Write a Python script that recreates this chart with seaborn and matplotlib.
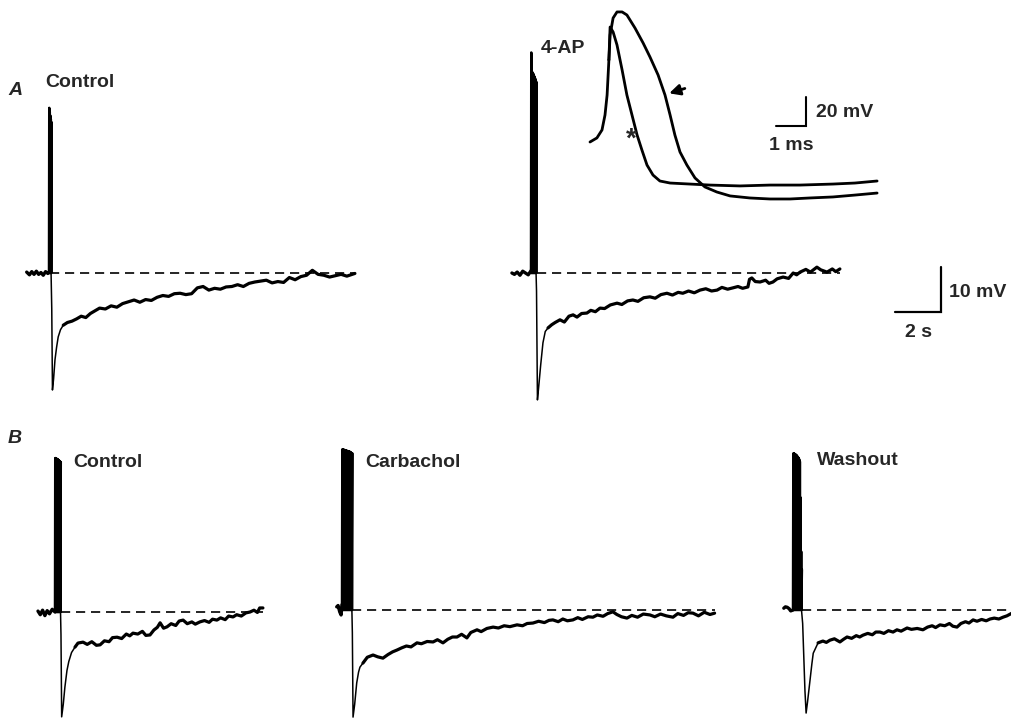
import numpy as np
import matplotlib
matplotlib.use("Agg")
import matplotlib.pyplot as plt
import seaborn as sns

sns.set_style("white")
plt.rcParams['font.family'] = ['Liberation Sans', 'DejaVu Sans']

W, H = 1012, 719
PX_S = 23.0    # px per second (2 s bar = 46 px)
PX_MV = 4.5    # px per mV (10 mV bar = 45 px)

# ---- slow traces: (time from train onset, s ; mV from baseline) ----
a_ctrl_pre = [(-0.97, 0.2), (-0.85, -0.4), (-0.75, 0.3), (-0.65, -0.3), (-0.55, 0.4),
              (-0.45, -0.3), (-0.35, 0.1), (-0.25, -0.5), (-0.15, 0.3), (-0.05, -0.1), (0.0, 0.2)]
a_ctrl_peaks = [36.7, 35.8, 35.0, 34.2, 33.5]
a_ctrl_fast = [(0.12, -8.0), (0.15, -26.0), (0.2, -23.5), (0.26, -19.3), (0.33, -16.5),
               (0.4, -14.2), (0.5, -12.6), (0.62, -11.6)]
a_ctrl_slow = [(0.62, -11.6), (0.8, -11.0), (1.0, -10.7), (1.2, -10.2), (1.4, -9.6), (1.6, -9.9),
               (1.8, -9.0), (2.0, -8.4), (2.2, -7.8), (2.45, -8.0), (2.7, -7.3), (2.95, -7.6),
               (3.2, -6.8), (3.45, -6.4), (3.7, -6.0), (3.95, -6.5), (4.2, -5.9), (4.45, -6.1),
               (4.7, -5.4), (4.95, -5.0), (5.2, -5.2), (5.45, -4.6), (5.7, -4.5), (5.95, -4.8),
               (6.2, -4.6), (6.45, -3.3), (6.7, -3.0), (6.95, -3.8), (7.2, -3.4), (7.45, -3.6),
               (7.7, -3.1), (7.95, -3.0), (8.2, -2.6), (8.45, -3.0), (8.7, -2.3), (8.95, -2.0),
               (9.2, -1.8), (9.45, -1.6), (9.7, -2.2), (9.95, -1.9), (10.2, -2.1), (10.45, -1.0),
               (10.7, -1.5), (10.95, -0.8), (11.2, -0.5), (11.45, 0.6), (11.7, -0.3), (11.95, -0.5),
               (12.2, -0.9), (12.45, -0.6), (12.7, -0.3), (12.95, -0.7), (13.3, -0.1)]
a_ctrl_dash = (0.05, 13.3)

a_4ap_pre = [(-0.83, 0.0), (-0.72, -0.3), (-0.6, 0.2), (-0.48, -0.5), (-0.36, 0.4),
             (-0.24, 0.0), (-0.12, -0.4), (0.0, 0.5)]
a_4ap_peaks = [49.0, 44.7, 44.6, 44.4, 44.1, 43.8, 43.5, 43.2, 42.8, 42.4]
a_4ap_fast = [(0.24, -4.0), (0.28, -28.2), (0.34, -25.0), (0.42, -20.5), (0.52, -15.5),
              (0.62, -13.0), (0.74, -12.2)]
a_4ap_slow = [(0.74, -12.2), (0.9, -11.5), (1.05, -11.0), (1.26, -10.4), (1.45, -10.9), (1.65, -9.6),
              (1.83, -9.3), (2.0, -9.8), (2.2, -9.0), (2.43, -8.9), (2.6, -8.3), (2.8, -8.6),
              (3.0, -7.8), (3.2, -7.9), (3.45, -7.1), (3.74, -6.7), (3.95, -7.0), (4.2, -6.2),
              (4.43, -6.0), (4.65, -6.3), (4.9, -5.5), (5.17, -5.3), (5.4, -5.6), (5.65, -4.8),
              (5.91, -4.5), (6.15, -4.9), (6.4, -4.3), (6.6, -4.5), (6.85, -4.0), (7.1, -4.4),
              (7.35, -3.8), (7.6, -3.5), (7.85, -4.0), (8.09, -3.8), (8.3, -3.2), (8.55, -3.6),
              (8.78, -3.3), (9.0, -3.0), (9.2, -3.4), (9.43, -3.1), (9.5, -1.4), (9.6, -1.1),
              (9.75, -1.9), (9.96, -2.0), (10.2, -1.6), (10.35, -2.3), (10.52, -2.0), (10.7, -1.3),
              (10.96, -0.9), (11.2, -1.2), (11.4, 0.0), (11.55, -0.4), (11.7, 0.2), (11.95, 0.8),
              (12.15, 0.2), (12.43, 1.3), (12.6, 0.7), (12.87, 0.2), (13.1, 0.9), (13.25, 0.3),
              (13.43, 0.9)]
a_4ap_dash = (0.26, 13.43)

b_ctrl_pre = [(-0.74, 0.2), (-0.64, -0.6), (-0.54, 0.4), (-0.44, -0.8), (-0.34, 0.3),
              (-0.24, -0.4), (-0.12, 0.6), (0.0, 0.0)]
b_ctrl_peaks = [34.2, 34.2, 34.1, 34.0, 34.0, 33.9, 33.8, 33.7, 33.6, 33.5, 33.4, 33.3]
b_ctrl_fast = [(0.26, -5.0), (0.29, -23.3), (0.36, -20.5), (0.43, -16.7), (0.52, -13.0),
               (0.6, -11.0), (0.72, -9.0), (0.87, -7.8)]
b_ctrl_slow = [(0.87, -7.8), (1.0, -6.9), (1.22, -6.7), (1.4, -7.2), (1.6, -6.6), (1.8, -7.4),
               (1.96, -7.3), (2.15, -6.4), (2.35, -6.6), (2.5, -5.7), (2.7, -5.6), (2.9, -5.9),
               (3.1, -4.9), (3.25, -5.3), (3.39, -4.7), (3.6, -4.9), (3.8, -4.3), (3.95, -5.2),
               (4.13, -5.1), (4.3, -4.0), (4.45, -3.4), (4.57, -2.4), (4.72, -3.6), (4.87, -3.3),
               (5.05, -2.6), (5.25, -3.0), (5.4, -2.0), (5.57, -1.8), (5.75, -2.6), (5.95, -2.2),
               (6.1, -2.7), (6.3, -2.2), (6.5, -1.9), (6.7, -2.3), (6.85, -1.6), (7.04, -1.8),
               (7.2, -1.3), (7.4, -1.7), (7.55, -0.9), (7.74, -1.1), (7.9, -0.6), (8.1, -0.9),
               (8.3, -0.2), (8.48, 0.0), (8.65, 0.4), (8.8, -0.1), (8.9, 0.9), (9.04, 0.9)]
b_ctrl_dash = (0.26, 9.04)

b_carb_pre = [(-0.23, 0.7), (-0.17, 1.0), (-0.1, -0.4), (-0.04, -1.1), (0.0, 1.2)]
b_carb_peaks = [35.7, 35.7, 35.6, 35.6, 35.5, 35.5, 35.4, 35.4, 35.3, 35.3, 35.2, 35.2,
                35.1, 35.0, 34.9, 34.8]
b_carb_fast = [(0.45, -5.0), (0.48, -23.8), (0.55, -21.0), (0.64, -16.2), (0.72, -13.8),
               (0.78, -12.7), (0.91, -11.8)]
b_carb_slow = [(0.91, -11.8), (1.1, -10.5), (1.35, -10.0), (1.55, -10.4), (1.78, -10.7), (2.0, -9.9),
               (2.2, -9.3), (2.39, -8.9), (2.6, -8.4), (2.8, -8.0), (3.0, -8.2), (3.26, -7.3),
               (3.45, -7.5), (3.7, -7.0), (3.96, -7.1), (4.15, -6.6), (4.39, -7.3), (4.6, -6.5),
               (4.8, -6.0), (5.0, -6.0), (5.2, -5.4), (5.43, -6.2), (5.6, -5.0), (5.87, -4.4),
               (6.05, -4.8), (6.3, -4.1), (6.57, -3.8), (6.8, -4.0), (7.05, -3.5), (7.3, -3.7),
               (7.61, -3.3), (7.85, -3.5), (8.05, -3.0), (8.3, -2.9), (8.55, -2.5), (8.8, -2.8),
               (9.0, -2.3), (9.17, -2.2), (9.4, -2.6), (9.6, -2.0), (9.8, -2.4), (10.04, -2.2),
               (10.25, -1.7), (10.45, -2.1), (10.7, -1.5), (10.91, -1.6), (11.1, -1.1), (11.35, -1.4),
               (11.55, -0.8), (11.78, -0.4), (11.95, -1.0), (12.15, -1.5), (12.39, -1.8), (12.6, -1.2),
               (12.85, -1.6), (13.1, -0.9), (13.39, -1.1), (13.6, -1.5), (13.85, -0.9), (14.1, -1.3),
               (14.39, -1.6), (14.6, -0.8), (14.85, -1.2), (15.05, -0.6), (15.26, -0.7), (15.5, -1.3),
               (15.75, -0.5), (16.0, -1.0), (16.2, -0.7)]
b_carb_dash = (0.43, 16.2)

b_wash_pre = [(-0.4, 0.4), (-0.33, 0.7), (-0.25, 0.6), (-0.17, 0.3), (-0.1, -0.2), (0.0, 0.0)]
b_wash_peaks = [34.8, 34.8, 34.7, 34.6, 34.5, 34.4, 34.2, 34.0, 33.8, 33.5, 33.0, 25.0, 13.0, 9.0]
b_wash_fast = [(0.42, -3.0), (0.52, -18.0), (0.57, -22.9), (0.63, -20.5), (0.74, -15.6),
               (0.82, -12.0), (0.88, -9.6), (1.09, -7.3)]
b_wash_slow = [(1.09, -7.3), (1.3, -6.9), (1.45, -7.2), (1.61, -6.7), (1.8, -6.4), (2.04, -7.1),
               (2.2, -6.5), (2.35, -6.0), (2.55, -6.3), (2.75, -5.7), (2.9, -6.0), (3.04, -5.6),
               (3.25, -5.2), (3.45, -5.5), (3.6, -4.9), (3.78, -4.9), (3.95, -5.2), (4.15, -4.6),
               (4.35, -4.9), (4.52, -4.4), (4.7, -4.7), (4.96, -4.0), (5.15, -4.3), (5.4, -4.1),
               (5.65, -4.4), (5.85, -3.8), (6.05, -3.5), (6.2, -3.9), (6.39, -3.3), (6.6, -3.5),
               (6.8, -3.0), (6.95, -3.6), (7.13, -3.8), (7.3, -3.0), (7.5, -2.6), (7.65, -2.9),
               (7.83, -2.2), (8.0, -2.5), (8.2, -2.1), (8.4, -2.4), (8.57, -2.0), (8.75, -1.8),
               (8.95, -2.0), (9.13, -1.6), (9.3, -1.3), (9.52, -0.7)]
b_wash_dash = (0.39, 9.52)

# ---- inset action potentials: (ms, mV from start of sweep) ----
ap_rise = [(0.0, 0.0), (0.23, 2.8), (0.4, 8.3), (0.5, 18.6), (0.57, 32.4), (0.63, 56.6)]
ap_4ap = [(0.63, 56.6), (0.67, 73.8), (0.77, 85.5), (0.9, 89.7), (1.07, 89.7), (1.23, 87.6),
          (1.5, 78.6), (1.77, 68.3), (2.0, 58.6), (2.27, 46.2), (2.5, 32.4), (2.67, 18.6),
          (2.83, 4.8), (3.0, -6.9), (3.23, -15.9), (3.5, -24.8), (3.83, -31.0), (4.23, -34.5),
          (4.67, -37.2), (5.33, -38.6), (6.0, -39.3), (6.67, -39.3), (7.33, -38.6), (8.1, -37.9),
          (8.83, -36.6), (9.57, -35.2)]
ap_ctrl = [(0.63, 56.6), (0.67, 79.3), (0.77, 75.9), (0.9, 66.9), (1.07, 49.7), (1.23, 32.4),
           (1.4, 18.6), (1.57, 4.8), (1.73, -5.5), (1.9, -15.9), (2.1, -22.8), (2.33, -26.9),
           (2.67, -28.3), (3.33, -29.0), (4.0, -29.7), (5.0, -30.3), (6.0, -29.7), (7.0, -29.7),
           (8.1, -29.0), (8.83, -28.3), (9.57, -26.9)]

# trace origins in pixels (train onset x, baseline y)
traces = [
    (a_ctrl_pre, a_ctrl_peaks, 0.09, a_ctrl_fast, a_ctrl_slow, a_ctrl_dash, (49, 273)),
    (a_4ap_pre, a_4ap_peaks, 0.22, a_4ap_fast, a_4ap_slow, a_4ap_dash, (531, 273)),
    (b_ctrl_pre, b_ctrl_peaks, 0.24, b_ctrl_fast, b_ctrl_slow, b_ctrl_dash, (55, 612)),
    (b_carb_pre, b_carb_peaks, 0.43, b_carb_fast, b_carb_slow, b_carb_dash, (342, 610)),
    (b_wash_pre, b_wash_peaks, 0.37, b_wash_fast, b_wash_slow, b_wash_dash, (793, 610)),
]

fig = plt.figure(figsize=(W / 100, H / 100), dpi=100)
ax = fig.add_axes([0, 0, 1, 1])
ax.set_xlim(0, W / PX_S)
ax.set_ylim(0, H / PX_MV)
ax.axis('off')


def line(a, pts, x0=0.0, y0=0.0, **kw):
    t = np.array([p[0] for p in pts]) + x0
    v = np.array([p[1] for p in pts]) + y0
    sns.lineplot(x=t, y=v, ax=a, color='black', sort=False, estimator=None, **kw)


for pre, peaks, dur, fast, slow, dash, (px, py) in traces:
    x0, y0 = px / PX_S, (H - py) / PX_MV
    ts = np.linspace(0, dur, len(peaks))
    step = ts[1] - ts[0]
    train = []
    for t, p in zip(ts, peaks):
        train += [(t, 0.0), (t + step * 0.5, p)]
    train.append((dur, 0.0))
    line(ax, pre, x0, y0, linewidth=2.4)
    line(ax, train, x0, y0, linewidth=1.8)
    line(ax, [train[-1]] + fast, x0, y0, linewidth=1.1)
    line(ax, slow, x0, y0, linewidth=2.3)
    line(ax, [(dash[0], 0.0), (dash[1], 0.0)], x0, y0, linewidth=1.2,
         linestyle=(0, (5.5, 3.5)))

# 10 mV / 2 s scale bar
sx, sy = 941 / PX_S, (H - 312) / PX_MV
ax.plot([sx - 2, sx, sx], [sy, sy, sy + 10], color='black', lw=1.6,
        solid_joinstyle='miter')

# inset with action potentials
IX_MS, IY_MV, IOX, IOY = 30.0, 1.45, 590, 142
axi = fig.add_axes([580 / W, 1 - 210 / H, 310 / W, 210 / H])
axi.set_xlim((580 - IOX) / IX_MS, (890 - IOX) / IX_MS)
axi.set_ylim((IOY - 210) / IY_MV, IOY / IY_MV)
axi.axis('off')
axi.patch.set_alpha(0)
line(axi, ap_rise, linewidth=2.0)
line(axi, ap_4ap, linewidth=2.0)
line(axi, ap_ctrl, linewidth=2.0)
bx, by = (806 - IOX) / IX_MS, (IOY - 126) / IY_MV
axi.plot([bx - 1, bx, bx], [by, by, by + 20], color='black', lw=1.5,
         solid_joinstyle='miter')
axi.annotate('', xy=(2.55, 33.0), xytext=(3.25, 37.5),
             arrowprops=dict(arrowstyle='-|>', color='black', lw=2.0,
                             mutation_scale=16))
axi.text(1.39, 1.5, '*', fontsize=20, fontweight='bold', ha='center', va='center')

# text labels (pixel positions -> figure fraction)
def label(x, y, s, **kw):
    fig.text(x / W, 1 - y / H, s, fontsize=14, fontweight='bold',
             ha='left', va='baseline', **kw)

label(8, 95, 'A', style='italic')
label(45, 87, 'Control')
label(541, 53, '4-AP')
label(8, 443, 'B', style='italic')
label(73, 467, 'Control')
label(365, 467, 'Carbachol')
label(817, 465, 'Washout')
label(816, 117, '20 mV')
label(769, 150, '1 ms')
label(949, 297, '10 mV')
label(905, 337, '2 s')

fig.savefig('out.png', dpi=100)
